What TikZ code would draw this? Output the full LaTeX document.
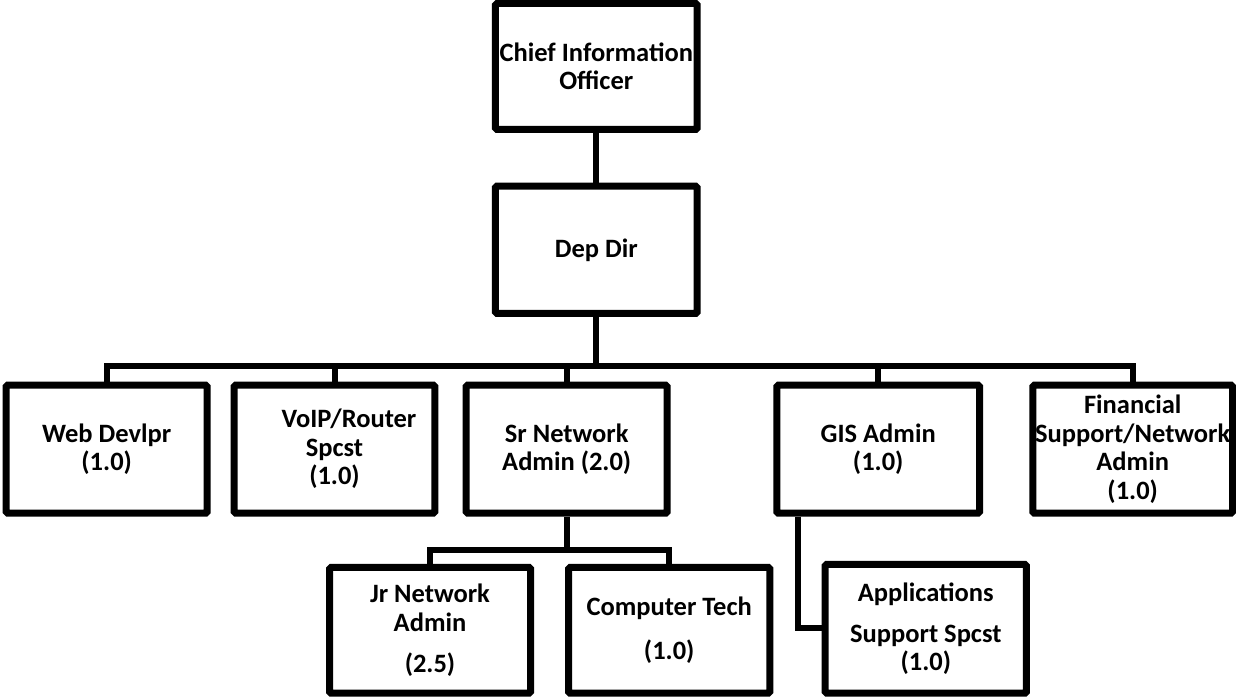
\documentclass[tikz,border=0pt]{standalone}
\usepackage{fontspec}
\setmainfont{Carlito}
\begin{document}
\begin{tikzpicture}[x=1pt,y=-1pt,
  box/.style={draw=black, line width=7pt, rounded corners=1.5pt, fill=white,
    inner sep=0pt, align=center,
    font=\bfseries\fontsize{26.5}{28.5}\selectfont},
  link/.style={draw=black, line width=6pt}]
\useasboundingbox (0,0) rectangle (1236,698);

% top of the chart
\node[box, minimum width=201.7pt, minimum height=126pt] (cio) at (596.3,66.5)
  {Chief Information\\Officer};
\node[box, minimum width=201.7pt, minimum height=127.3pt] (dep) at (596.3,249.8)
  {Dep Dir};

% second level
\node[box, minimum width=201pt, minimum height=128pt] (web) at (106.7,449.2)
  {Web Devlpr\\(1.0)};
\node[box, minimum width=200.6pt, minimum height=128pt] (voip) at (334.5,449.2)
  {\hspace*{29pt}VoIP/Router\\Spcst\\(1.0)};
\node[box, minimum width=201pt, minimum height=128pt] (sr) at (566.7,449.2)
  {Sr Network\\Admin (2.0)};
\node[box, minimum width=202.7pt, minimum height=128pt] (gis) at (878.2,449.2)
  {GIS Admin\\(1.0)};
\node[box, minimum width=199.7pt, minimum height=128pt] (fin) at (1132.7,449.2)
  {Financial\\Support/Network\\Admin\\(1.0)};

% third level
\node[box, minimum width=201pt, minimum height=125.7pt] (jr) at (430,630.3)
  {Jr Network\\Admin\\[12.5pt](2.5)};
\node[box, minimum width=201.3pt, minimum height=125.7pt] (comp) at (669.2,630.3)
  {Computer Tech\\[15pt](1.0)};
\node[box, minimum width=201.3pt, minimum height=128.7pt] (app) at (925.8,628.8)
  {Applications\\[12pt]Support Spcst\\(1.0)};

% bus levels
\coordinate (bus1) at (0,366);
\coordinate (bus2) at (0,549.7);
\coordinate (gisdrop) at (797.5,0);
\coordinate (applevel) at (0,628);

% connectors
\draw[link] (cio.south) -- (dep.north);
\draw[link] (dep.south) -- (dep.south |- bus1);
\draw[link] (web.north) |- (bus1 -| fin.north) -- (fin.north);
\draw[link] (voip.north) -- (voip.north |- bus1);
\draw[link] (sr.north) -- (sr.north |- bus1);
\draw[link] (gis.north) -- (gis.north |- bus1);

\draw[link] (sr.south) -- (sr.south |- bus2);
\draw[link] (jr.north) |- (bus2 -| comp.north) -- (comp.north);

\draw[link] (gis.south -| gisdrop) |- (app.west |- applevel);
\end{tikzpicture}
\end{document}
